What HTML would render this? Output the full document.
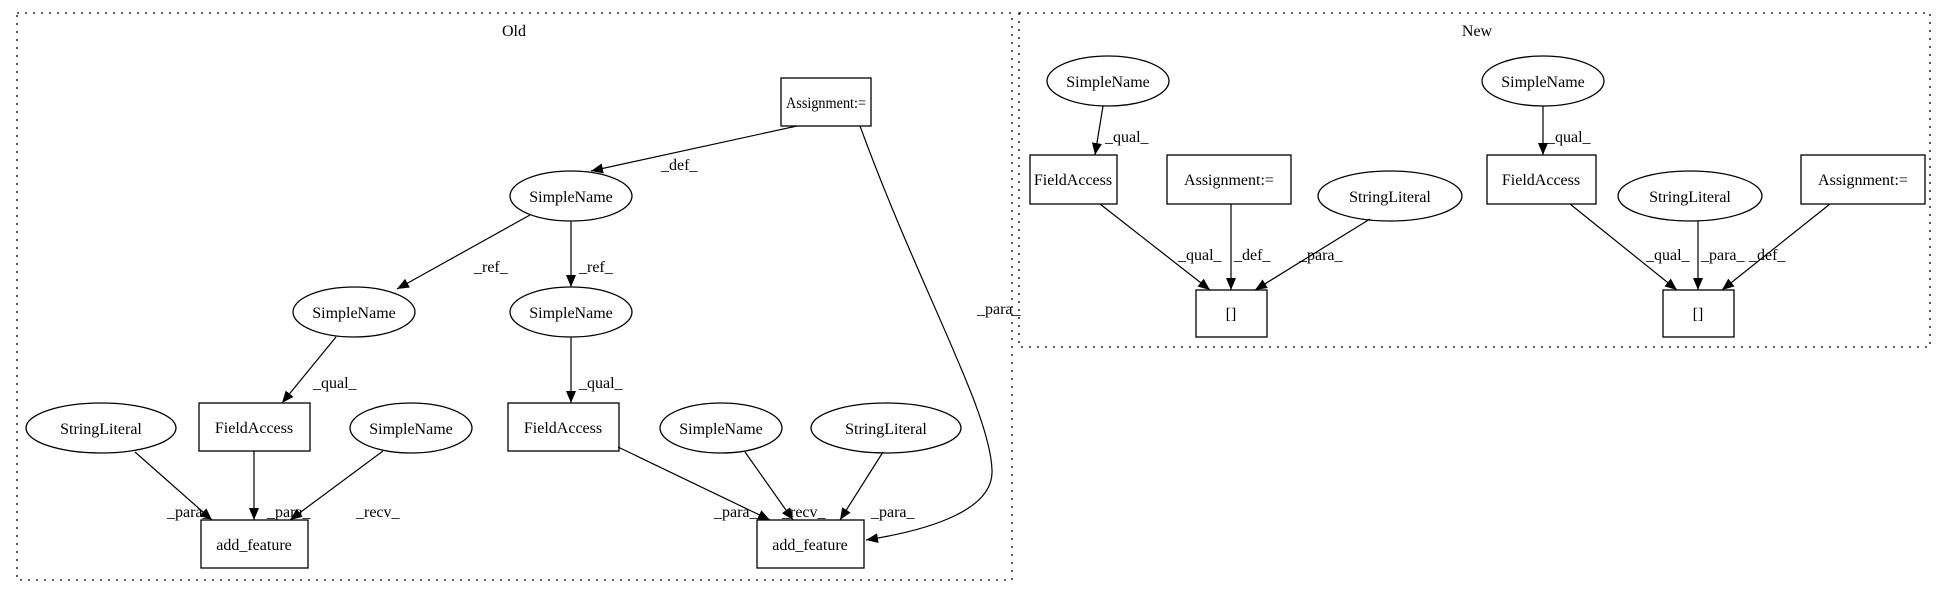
<!DOCTYPE html>
<html><head><meta charset="utf-8"><style>
html,body{margin:0;padding:0;background:#fff;}
svg{display:block;}
text{font-family:"Liberation Serif",serif;font-size:16px;fill:#000;}
</style></head><body>
<svg width="1949" height="596" viewBox="0 0 1949 596" xmlns="http://www.w3.org/2000/svg">
<defs><marker id="a" markerWidth="12" markerHeight="10" refX="12" refY="5" orient="auto" markerUnits="userSpaceOnUse"><path d="M0,0 L12,5 L0,10 z" fill="#000"/></marker></defs>
<g fill="none" stroke="#000" stroke-width="1.3">
<rect x="17" y="13" width="995" height="567" stroke-dasharray="2,6"/>
<rect x="1019" y="13" width="911" height="334" stroke-dasharray="2,6"/>
<rect x="781" y="78" width="90" height="48"/>
<ellipse cx="571" cy="196" rx="61" ry="25"/>
<ellipse cx="354" cy="312" rx="61" ry="25"/>
<ellipse cx="571" cy="312" rx="61" ry="25"/>
<rect x="199" y="403" width="111" height="48"/>
<rect x="508" y="403" width="111" height="48"/>
<ellipse cx="101" cy="428" rx="75" ry="25"/>
<ellipse cx="411" cy="428" rx="61" ry="25"/>
<ellipse cx="721" cy="428" rx="61" ry="25"/>
<ellipse cx="886" cy="428" rx="75" ry="25"/>
<rect x="201" y="520" width="107" height="48"/>
<rect x="757" y="520" width="107" height="48"/>
<ellipse cx="1108" cy="81" rx="61" ry="25"/>
<ellipse cx="1543" cy="81" rx="61" ry="25"/>
<rect x="1030" y="155" width="87" height="49"/>
<rect x="1167" y="155" width="124" height="49"/>
<ellipse cx="1390" cy="196" rx="72" ry="25"/>
<rect x="1487" y="155" width="109" height="49"/>
<ellipse cx="1690" cy="196" rx="72" ry="25"/>
<rect x="1801" y="155" width="124" height="49"/>
<rect x="1196" y="290" width="71" height="47"/>
<rect x="1663" y="290" width="71" height="47"/>
</g>
<g fill="none" stroke="#000" stroke-width="1.2" marker-end="url(#a)">
<path d="M797,126 L591,171"/>
<path d="M860,126 C920,290 990,410 992,470 C994,510 930,530 866,540"/>
<path d="M530,215 L397,289"/>
<path d="M571,221 L571,287"/>
<path d="M336,337 L282,403"/>
<path d="M571,337 L571,403"/>
<path d="M135,452 L212,520"/>
<path d="M254,451 L254,520"/>
<path d="M383,451 L290,520"/>
<path d="M618,447 L770,520"/>
<path d="M745,452 L793,520"/>
<path d="M883,452 L840,520"/>
<path d="M1103,106 L1095,155"/>
<path d="M1543,106 L1543,155"/>
<path d="M1100,204 L1210,290"/>
<path d="M1231,204 L1231,290"/>
<path d="M1370,219 L1255,290"/>
<path d="M1570,204 L1677,290"/>
<path d="M1698,221 L1698,290"/>
<path d="M1830,204 L1722,290"/>
</g>
<g text-anchor="middle">
<text x="514" y="36">Old</text>
<text x="1477" y="36">New</text>
<text x="826" y="108" textLength="80" lengthAdjust="spacingAndGlyphs">Assignment:=</text>
<text x="571" y="202">SimpleName</text>
<text x="354" y="318">SimpleName</text>
<text x="571" y="318">SimpleName</text>
<text x="254" y="433">FieldAccess</text>
<text x="563" y="433">FieldAccess</text>
<text x="101" y="434">StringLiteral</text>
<text x="411" y="434">SimpleName</text>
<text x="721" y="434">SimpleName</text>
<text x="886" y="434">StringLiteral</text>
<text x="254" y="550">add_feature</text>
<text x="810" y="550">add_feature</text>
<text x="1108" y="87">SimpleName</text>
<text x="1543" y="87">SimpleName</text>
<text x="1073" y="185">FieldAccess</text>
<text x="1229" y="185">Assignment:=</text>
<text x="1390" y="202">StringLiteral</text>
<text x="1541" y="185">FieldAccess</text>
<text x="1690" y="202">StringLiteral</text>
<text x="1863" y="185">Assignment:=</text>
<text x="1231" y="319">[]</text>
<text x="1698" y="319">[]</text>
</g>
<g>
<text x="661" y="170">_def_</text>
<text x="977" y="314">_para_</text>
<text x="474" y="272">_ref_</text>
<text x="579" y="272">_ref_</text>
<text x="313" y="388">_qual_</text>
<text x="579" y="388">_qual_</text>
<text x="167" y="517">_para_</text>
<text x="267" y="517">_para_</text>
<text x="356" y="517">_recv_</text>
<text x="714" y="517">_para_</text>
<text x="782" y="517">_recv_</text>
<text x="871" y="517">_para_</text>
<text x="1105" y="142">_qual_</text>
<text x="1547" y="142">_qual_</text>
<text x="1178" y="260">_qual_</text>
<text x="1234" y="260">_def_</text>
<text x="1299" y="260">_para_</text>
<text x="1646" y="260">_qual_</text>
<text x="1701" y="260">_para_</text>
<text x="1749" y="260">_def_</text>
</g>
</svg>
</body></html>
